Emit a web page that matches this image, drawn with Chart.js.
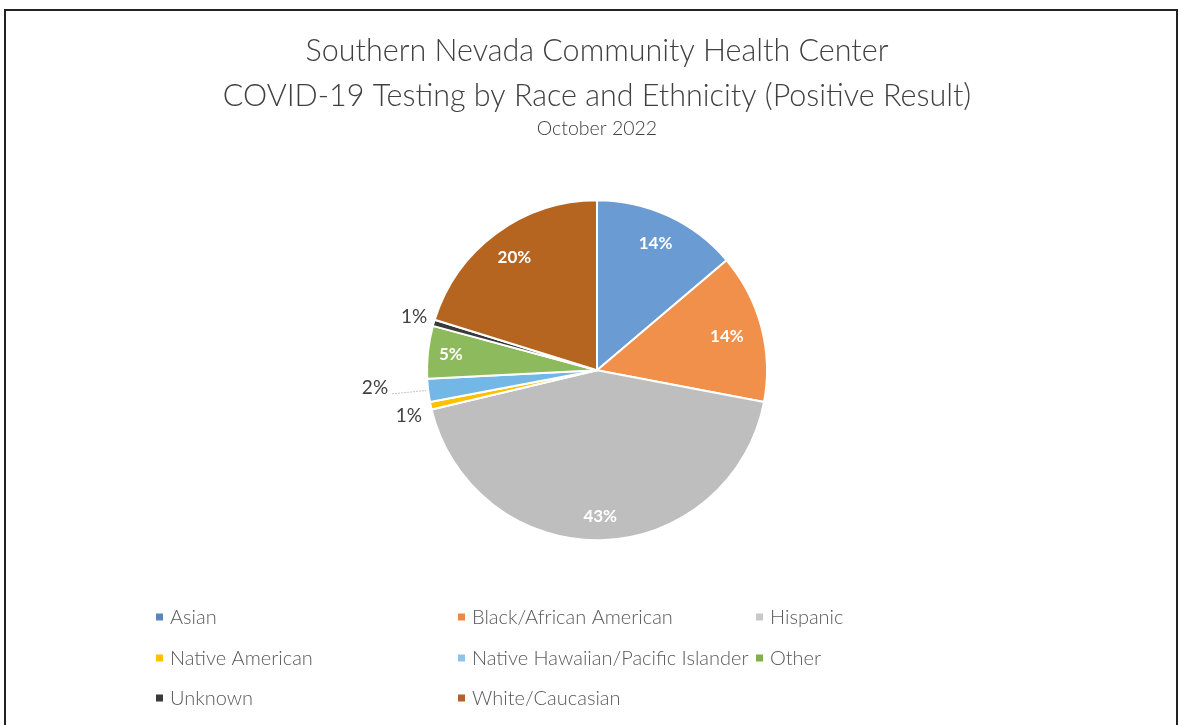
<!DOCTYPE html>
<html>
<head>
<meta charset="utf-8">
<script src="https://cdn.jsdelivr.net/npm/chart.js@4.4.1/dist/chart.umd.min.js"></script>
<style>
  html, body { margin:0; padding:0; background:#fff; }
  body { width:1184px; height:725px; position:relative; overflow:hidden; }
  #frame { position:absolute; left:4px; top:9px; width:1174px; height:760px; border:2px solid #222; box-sizing:border-box; }
  canvas { position:absolute; left:0; top:0; }
</style>
</head>
<body>
<div id="frame"></div>
<canvas id="c" width="1184" height="725"></canvas>
<script>
const titleLines = ['Southern Nevada Community Health Center', 'COVID-19 Testing by Race and Ethnicity (Positive Result)'];
const subtitleText = 'October 2022';
const categories = ['Asian', 'Black/African American', 'Hispanic', 'Native American', 'Native Hawaiian/Pacific Islander', 'Other', 'Unknown', 'White/Caucasian'];
const values = [13.8, 14.2, 43.3, 0.7, 2.2, 5.0, 0.6, 20.2];
const colors = ['#6B9BD3', '#F1904A', '#BEBEBE', '#FFC000', '#72B7E6', '#8DBA5C', '#3A3A3A', '#B5651F'];
const legendMarkerColors = ['#5A86BF', '#EB8A45', '#C8C8C8', '#FFC000', '#8CC3EA', '#7FAF50', '#3A3A3A', '#B0632A'];

const FONT = 'Lato';
Chart.defaults.font.family = FONT;

const total = values.reduce((a, b) => a + b, 0);
const pct = values.map(v => Math.round(v / total * 100) + '%');

const labelPlugin = {
  id: 'sliceLabels',
  afterDatasetsDraw(chart, args, opts) {
    const ctx = chart.ctx;
    const meta = chart.getDatasetMeta(0);
    meta.data.forEach((arc, i) => {
      const p = arc.getProps(['x', 'y', 'startAngle', 'endAngle', 'outerRadius'], true);
      const mid = (p.startAngle + p.endAngle) / 2;
      const f = opts.factors[i];
      const ang = mid + (opts.angleShift[i] || 0) * Math.PI / 180;
      const lx = p.x + Math.cos(ang) * p.outerRadius * f;
      const ly = p.y + Math.sin(ang) * p.outerRadius * f;
      ctx.save();
      ctx.textAlign = 'center';
      ctx.textBaseline = 'middle';
      if (f < 1) {
        ctx.fillStyle = '#ffffff';
        ctx.font = 'bold 17px ' + FONT;
      } else {
        ctx.fillStyle = '#404040';
        ctx.font = '19px ' + FONT;
        if (opts.leaders[i]) {
          const ex = p.x + Math.cos(mid) * p.outerRadius;
          const ey = p.y + Math.sin(mid) * p.outerRadius;
          ctx.strokeStyle = '#c4c4c4';
          ctx.lineWidth = 1;
          ctx.setLineDash([2, 1]);
          ctx.beginPath();
          ctx.moveTo(lx + 17, ly + 6);
          ctx.lineTo(ex - 2, ey);
          ctx.stroke();
        }
      }
      ctx.fillText(pct[i], lx, ly);
      ctx.restore();
    });
  }
};

const legendPlugin = {
  id: 'gridLegend',
  afterDraw(chart, args, opts) {
    const ctx = chart.ctx;
    ctx.save();
    ctx.font = '300 20px ' + FONT;
    ctx.textBaseline = 'middle';
    ctx.textAlign = 'left';
    categories.forEach((name, i) => {
      const col = i % 3, row = Math.floor(i / 3);
      const x = opts.cols[col], y = opts.rows[row];
      ctx.fillStyle = legendMarkerColors[i];
      ctx.fillRect(x, y - 3.5, 7, 7);
      ctx.fillStyle = '#595959';
      ctx.fillText(name, x + 14, y + 1);
    });
    ctx.restore();
  }
};

new Chart(document.getElementById('c'), {
  type: 'pie',
  data: {
    labels: categories,
    datasets: [{
      data: values,
      backgroundColor: colors,
      borderColor: '#ffffff',
      borderWidth: 2,
      radius: 170
    }]
  },
  options: {
    responsive: false,
    devicePixelRatio: 1,
    animation: false,
    layout: { padding: { left: 10, right: 0, top: 0, bottom: 165 } },
    plugins: {
      legend: { display: false },
      tooltip: { enabled: false },
      title: {
        display: true,
        text: titleLines,
        color: '#404040',
        font: { size: 30.5, weight: 300, lineHeight: 1.475 },
        padding: { top: 29, bottom: 0 }
      },
      subtitle: {
        display: true,
        text: subtitleText,
        color: '#404040',
        font: { size: 19.5, weight: 300, lineHeight: 1.0 },
        padding: { top: 0, bottom: 42 }
      },
      sliceLabels: {
        factors: [0.82, 0.79, 0.86, 1.14, 1.31, 0.865, 1.12, 0.82],
        angleShift: [0, 0, 0, -1.7, 2.3, 0, 0, 0],
        leaders: [false, false, false, false, true, false, false, false]
      },
      gridLegend: {
        cols: [156, 458, 756],
        rows: [617, 658, 698]
      }
    }
  },
  plugins: [labelPlugin, legendPlugin]
});
</script>
</body>
</html>
